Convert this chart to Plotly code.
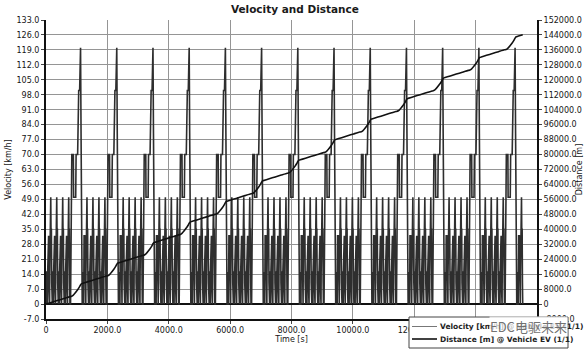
import plotly.graph_objects as go

# ---- data (repeated NEDC drive cycles) ----
# one ECE-15 urban sub-cycle breakpoints
ece_time = [0, 11, 15, 23, 25, 28, 49, 54, 56, 61, 85, 93, 96, 117, 122, 124,
            133, 135, 143, 155, 163, 176, 186, 188, 195]
ece_speed = [0, 0, 15, 15, 10, 0, 0, 15, 15, 32, 32, 10, 0, 0, 15, 15,
             35, 35, 50, 50, 35, 35, 10, 0, 0]
# extra-urban (EUDC) part breakpoints
eudc_time = [0, 20, 25, 27, 36, 38, 46, 48, 61, 111, 119, 188, 201, 251, 286,
             316, 336, 346, 362, 370, 380, 400]
eudc_speed = [0, 0, 15, 15, 35, 35, 50, 50, 70, 70, 50, 50, 70, 70, 100,
              100, 120, 120, 80, 50, 0, 0]
# distance within one cycle at cycle-relative times [s] -> [m]
cycle_dist_time = [0, 195, 390, 585, 780, 800, 861, 1031, 1096, 1126, 1160, 1180]
cycle_dist = [0, 994, 1988, 2982, 3976, 3976, 4380, 7630, 9290, 10230, 10960, 11007]
ece_per_cycle = 4
n_cycles = 13
extra_ece = 1

series_names = ["Velocity [km/h] @ Vehicle EV (1/1)", "Distance [m] @ Vehicle EV (1/1)"]
x_ticks = [0, 2000, 4000, 6000, 8000, 10000, 12000, 14000, 16000]
x_ticklabels = ["0", "2000.0", "4000.0", "6000.0", "8000.0", "10000.0",
                "12000.0", "14000.0", "16000.0"]
v_ticks = [-7 + 7 * i for i in range(21)]
d_ticks = [-8000 + 8000 * i for i in range(21)]

# ---- build series from the cycle tables ----
ece_len = ece_time[-1]
cycle_len = ece_per_cycle * ece_len + eudc_time[-1]
cycle_total = cycle_dist[-1]

t, v, td, d = [], [], [], []
for c in range(n_cycles):
    base = c * cycle_len
    for k in range(ece_per_cycle):
        t += [base + k * ece_len + a for a in ece_time]
        v += ece_speed
    t += [base + ece_per_cycle * ece_len + a for a in eudc_time]
    v += eudc_speed
    td += [base + a for a in cycle_dist_time]
    d += [c * cycle_total + b for b in cycle_dist]
base = n_cycles * cycle_len
for k in range(extra_ece):
    t += [base + k * ece_len + a for a in ece_time]
    v += ece_speed
td += [base + cycle_dist_time[k + 1] for k in range(extra_ece)]
d += [n_cycles * cycle_total + cycle_dist[k + 1] for k in range(extra_ece)]


def fmt(x):
    return "0" if x == 0 else f"{x:.1f}"


FONT = "DejaVu Sans"
W, H = 584, 354
ML, MR, MT, MB = 46, 47, 20, 35
PW, PH = W - ML - MR, H - MT - MB
VEL_COLOR, DIST_COLOR = "#2e2e2e", "#111111"


def px(xp):
    return (xp - ML) / PW


def py(yp):
    return (H - MB - yp) / PH


fig = go.Figure()
fig.add_trace(go.Scatter(x=t, y=v, mode="lines", name=series_names[0],
                         line=dict(color=VEL_COLOR, width=1.6), showlegend=False))
fig.add_trace(go.Scatter(x=td, y=d, mode="lines", name=series_names[1],
                         yaxis="y2", line=dict(color=DIST_COLOR, width=1.6, shape="spline",
                                               smoothing=0.4), showlegend=False))

fig.update_layout(
    width=W, height=H,
    margin=dict(l=ML, r=MR, t=MT, b=MB),
    paper_bgcolor="white", plot_bgcolor="white",
    font=dict(family=FONT, size=8, color="#151515"),
    title=dict(text="<b>Velocity and Distance</b>", x=0.505, xanchor="center",
               y=0.975, yanchor="middle", font=dict(family=FONT, size=10.5, color="#1a1a1a")),
    showlegend=False,
    xaxis=dict(range=[0, 16000], tickvals=x_ticks, ticktext=x_ticklabels,
               showgrid=True, gridcolor="#959595", gridwidth=1,
               showline=True, linecolor="#111", linewidth=1.5,
               ticks="outside", ticklen=3, tickcolor="#444",
               zeroline=False, automargin=False,
               title=dict(text="Time [s]", standoff=2, font=dict(size=8))),
    yaxis=dict(range=[-7, 133], tickvals=v_ticks, ticktext=[fmt(x) for x in v_ticks],
               showgrid=True, gridcolor="#959595", gridwidth=1,
               zeroline=True, zerolinecolor="#111", zerolinewidth=1.5,
               showline=True, linecolor="#111", linewidth=2,
               ticks="outside", ticklen=3, tickcolor="#444", automargin=False,
               title=dict(text="Velocity [km/h]", standoff=4, font=dict(size=8))),
    yaxis2=dict(range=[-8000, 152000], tickvals=d_ticks, ticktext=[fmt(x) for x in d_ticks],
                overlaying="y", side="right", showgrid=False, zeroline=False,
                showline=True, linecolor="#111", linewidth=2,
                ticks="outside", ticklen=3, tickcolor="#444", automargin=False,
                title=dict(text="Distance [m]", standoff=2, font=dict(size=8))),
)

# legend box drawn as shapes + text (bottom right, overlapping axis labels)
box = dict(x0=409, x1=568, y0=317, y1=348)
fig.add_shape(type="rect", xref="paper", yref="paper",
              x0=px(box["x0"]), x1=px(box["x1"]), y0=py(box["y1"]), y1=py(box["y0"]),
              line=dict(color="#444", width=1), fillcolor="white", layer="above")
for i, (name, col, lw) in enumerate([(series_names[0], "#777777", 1),
                                     (series_names[1], DIST_COLOR, 1.6)]):
    yy = 326.5 + i * 12.5
    fig.add_shape(type="line", xref="paper", yref="paper",
                  x0=px(412), x1=px(437), y0=py(yy), y1=py(yy),
                  line=dict(color=col, width=lw), layer="above")
    fig.add_annotation(text="<b>" + name + "</b>", xref="paper", yref="paper",
                       x=px(438), y=py(yy), xanchor="left", yanchor="middle",
                       showarrow=False,
                       font=dict(family=FONT, size=7.5, color="#222"))

fig.add_annotation(text="EDC电驱未来", xref="paper", yref="paper",
                   x=px(568), y=py(326), xanchor="right", yanchor="middle", showarrow=False,
                   bgcolor="rgba(255,255,255,0.75)", borderpad=0,
                   font=dict(family="Noto Sans CJK SC", size=13, color="rgba(95,95,95,0.9)"))

fig.write_html("out.html")
